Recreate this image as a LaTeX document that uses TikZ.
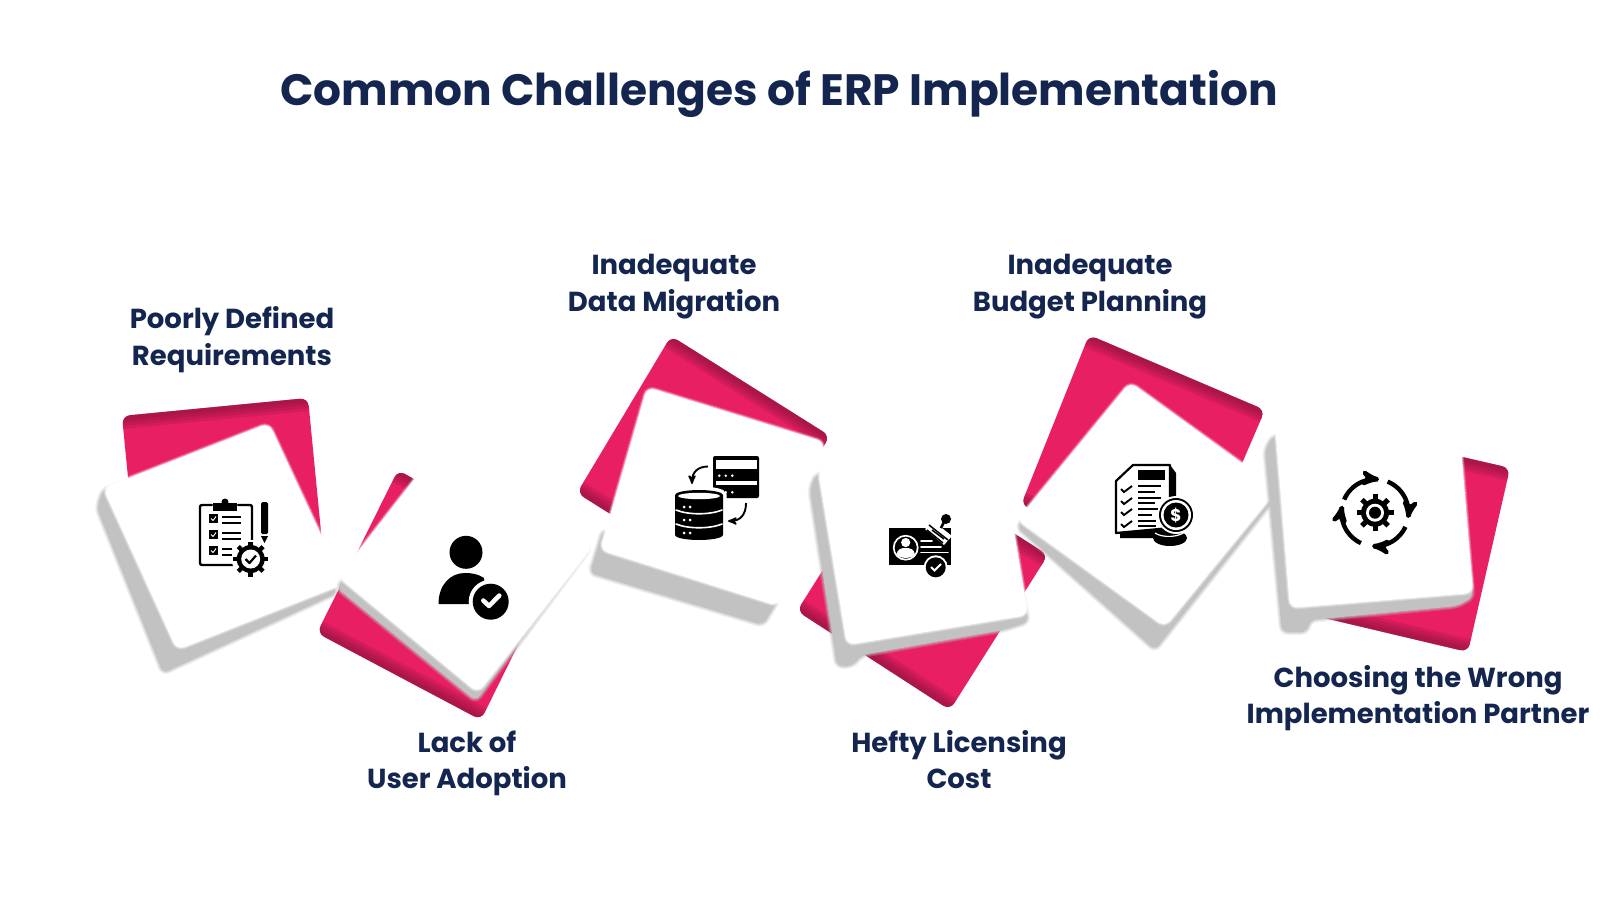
\documentclass[tikz,border=0pt]{standalone}
\usepackage{fontspec}
\setmainfont{Poppins}
\usepackage{xcolor}
\usepackage{tikz}
\usetikzlibrary{arrows}
\definecolor{pink_main}{HTML}{E91F63}
\definecolor{pink_dark}{HTML}{8E1440}
\definecolor{navy_text}{HTML}{14264F}
\definecolor{shadow_grey}{HTML}{C1C2C1}
\tikzset{
    label_node/.style = {align=center, inner sep=0pt, text=navy_text, font=\bfseries\fontsize{27.5}{36.6}\selectfont},
    title_node/.style = {align=center, inner sep=0pt, text=navy_text, font=\bfseries\fontsize{43.9}{50}\selectfont},
    pink_card/.style = {fill=pink_main, rounded corners=8pt},
    ink/.style = {draw=black, line width=2.4pt, line cap=round},
    knock/.style = {draw=white, line width=1.6pt, line cap=round},
    tick/.style = {draw=white, line width=3pt, line cap=round, line join=round},
    blacktick/.style = {draw=black, line width=1.6pt, line join=round}
}
\newcommand{\pinkcard}[4]{
    \fill[pink_card] #1 -- #2 -- #3 -- #4 -- cycle;
    \begin{scope}
        \clip[rounded corners=8pt] #1 -- #2 -- #3 -- #4 -- cycle;
        \foreach \w/\o in {26/0.22,20/0.25,14/0.25,8/0.25}
            \draw[draw=pink_dark, line width=\w pt, opacity=\o] #1 -- #2 #3 -- #4;
    \end{scope}
}
\newcommand{\greycard}[1]{
    \foreach \w/\o in {6/0.2,4/0.3,2/0.4}
        \draw[draw=shadow_grey, line width=\w pt, opacity=\o, rounded corners=6pt] #1 -- cycle;
    \fill[fill=shadow_grey, rounded corners=6pt] #1 -- cycle;
}
\newcommand{\whitecard}[1]{
    \fill[fill=white, rounded corners=8pt] #1 -- cycle;
    \foreach \w/\o in {4/0.25,2/0.4}
        \draw[draw=white, line width=\w pt, opacity=\o, rounded corners=8pt] #1 -- cycle;
}
\newcommand{\gearglyph}[4]{
    \begin{scope}[shift={#1}]
        \fill[black] (0,0) circle[radius=#3];
        \foreach \a in {0,45,...,315}
            \draw[draw=black, line width=#4pt] (0,0) -- (\a:#2);
    \end{scope}
}
\begin{document}
\begin{tikzpicture}[x=1pt, y=-1pt, >=stealth']
    \useasboundingbox (0,0) rectangle (1600,900);
    \fill[white] (0,0) rectangle (1600,900);

    \node [title_node] (title) at (779,94) {Common Challenges of ERP Implementation};

    \pinkcard{(122,416)}{(308,398)}{(326,583)}{(140,600)}
    \greycard{(103,490) -- (97,508) -- (163,673) -- (337,593) -- (270,430)}
    \whitecard{(103,488) -- (269,423) -- (344,584) -- (177,650)}

    \pinkcard{(671,336)}{(830,436)}{(735,592)}{(577,493)}
    \greycard{(603,530) -- (590,573) -- (763,625) -- (778,600)}
    \whitecard{(647,387) -- (825,442) -- (778,606) -- (600,550)}

    \pinkcard{(398,470)}{(559,562)}{(481,720)}{(317,633)}
    \greycard{(337,588) -- (476,701) -- (590,548) -- (451,440)}
    \whitecard{(338,577) -- (478,693) -- (593,546) -- (451,432)}

    \pinkcard{(894,457)}{(1048,555)}{(950,710)}{(797,611)}
    \greycard{(816,474) -- (810,490) -- (837,666) -- (852,666) -- (862,655) -- (1003,630) -- (1028,622) -- (1000,480)}
    \whitecard{(818,470) -- (999,440) -- (1028,615) -- (847,645)}

    \pinkcard{(1089,335)}{(1265,410)}{(1193,577)}{(1021,505)}
    \greycard{(1017,527) -- (1155,650) -- (1275,498) -- (1130,400)}
    \whitecard{(1130,382) -- (1278,489) -- (1165,627) -- (1017,520)}

    \pinkcard{(1324,425)}{(1510,468)}{(1468,652)}{(1282,608)}
    \greycard{(1273,436) -- (1265,450) -- (1282,632) -- (1307,632) -- (1310,620) -- (1457,606) -- (1473,597) -- (1450,430)}
    \whitecard{(1275,425) -- (1458,410) -- (1473,593) -- (1290,608)}

    % clipboard
    \draw[ink, rounded corners=2pt] (212,505) -- (200,505) -- (200,565) -- (236,565);
    \draw[ink, rounded corners=2pt] (238,505) -- (252,505) -- (252,545);
    \fill[black] (213,503) rectangle (237,511);
    \fill[black] (225,502) circle[radius=3.5];
    \foreach \y in {514,530,546} {
        \fill[black] (209,\y) rectangle (218,\y+9);
        \draw[draw=white, line width=1pt] (211,\y+4.5) -- (213,\y+6.5) -- (216,\y+2.5);
    }
    \foreach \y in {517,523,533,539}
        \draw[draw=black, line width=1.8pt] (222,\y) -- (241,\y);
    \draw[draw=black, line width=1.8pt] (222,549) -- (232,549);
    \draw[draw=black, line width=1.8pt] (222,555) -- (232,555);
    \fill[white] (250.7,559) circle[radius=19];
    \gearglyph{(250.7,559)}{17.5}{14}{4.5}
    \fill[white] (250.7,559) circle[radius=9.5];
    \draw[blacktick, line width=2.2pt] (245.5,559) -- (249.5,563) -- (256,555.5);
    \fill[black, rounded corners=1.5pt] (261,502) rectangle (268,534);
    \fill[black] (261,536) -- (268,536) -- (264.5,543) -- cycle;

    % person
    \fill[black] (466,552.3) circle[radius=16.5];
    \fill[black] (438.5,604) .. controls (438.5,585) and (450,573) .. (465,573) .. controls (472,573) and (478,574) .. (484,578) -- (484,604) -- cycle;
    \fill[white] (490.7,601.7) circle[radius=22];
    \fill[black] (490.7,601.7) circle[radius=18];
    \draw[tick, line width=4.5pt] (483.3,600.5) -- (489,606) -- (499.3,595.5);

    % database and server
    \fill[black, rounded corners=2pt] (713,456) rectangle (759,498);
    \fill[white] (716,460) rectangle (757,469);
    \fill[white] (716,481) rectangle (757,485);
    \foreach \x in {719.3,725.7,732.3} {
        \fill[white] (\x,475.7) circle[radius=1.4];
        \fill[white] (\x,492.3) circle[radius=1.4];
    }
    \draw[draw=white, line width=7pt] (675,495) -- (675,535) arc[start angle=180, end angle=360, x radius=24, y radius=-5] -- (723,495) arc[start angle=0, end angle=180, x radius=24, y radius=-5] -- cycle;
    \fill[black] (675,495) -- (675,535) arc[start angle=180, end angle=360, x radius=24, y radius=-5] -- (723,495) arc[start angle=0, end angle=180, x radius=24, y radius=-5] -- cycle;
    \fill[white] (699,496) ellipse[x radius=21, y radius=3.2];
    \draw[knock] (676,510) .. controls (688,515) and (710,515) .. (722,510);
    \draw[knock] (676,524) .. controls (688,529) and (710,529) .. (722,524);
    \foreach \y in {507,520,533} {
        \fill[white] (684,\y) circle[radius=1.5];
        \fill[white] (690,\y) circle[radius=1.5];
    }
    \draw[->, draw=black, line width=1.9pt] (708,466.5) .. controls (698,466.5) and (692,472) .. (692,484);
    \draw[->, draw=black, line width=1.9pt] (746,503) .. controls (746,515) and (740,521) .. (728,521);

    % licence card
    \fill[black] (889.3,528.3) rectangle (951,565);
    \draw[draw=white, line width=1.7pt] (905.7,547.7) circle[radius=12];
    \fill[white] (905.7,542.5) circle[radius=4.6];
    \fill[white] (896.5,555) .. controls (897,549) and (901,548) .. (905.7,548) .. controls (910,548) and (914.5,549) .. (915,555) .. controls (910,559) and (901,559) .. (896.5,555) -- cycle;
    \draw[knock] (921,541) -- (932,541);
    \draw[knock] (921,547) -- (941,547);
    \draw[knock] (921,552.5) -- (948,552.5);
    \fill[white] (925,529) -- (933,521) -- (952,536) -- (944,545) -- cycle;
    \draw[draw=black, line width=1.5pt] (929,525) -- (948,540);
    \draw[draw=black, line width=1.5pt] (932,530) -- (944,539);
    \draw[draw=black, line width=1.5pt] (927,530) -- (943,543);
    \draw[draw=black, line width=2.5pt] (945,520) -- (941,528);
    \fill[black] (946,519) circle[radius=5];
    \fill[white] (935.7,567.3) circle[radius=12];
    \fill[black] (935.7,567.3) circle[radius=10];
    \draw[draw=white, line width=2pt] (931,567) -- (934.5,570.5) -- (941,564);

    % budget sheet
    \fill[black] (1120,480) -- (1120,538) -- (1176,538) -- (1176,473) -- (1170,465) -- cycle;
    \draw[draw=black, line width=2.2pt, fill=white, line join=round] (1116,481) -- (1133,465) -- (1170,465) -- (1170,528) -- (1116,533) -- cycle;
    \fill[black] (1138,470) rectangle (1165,479.5);
    \foreach \y/\e in {486/1161,492/1155,498/1161,503/1155,509/1158,515/1152,521/1156,526/1156}
        \draw[draw=black, line width=1.9pt] (1138,\y) -- (\e,\y);
    \foreach \y in {489,501,512,524}
        \draw[draw=black, line width=1.9pt] (1121,\y) -- (1124,\y+3) -- (1132,\y-3);
    \fill[black] (1170,538) ellipse[x radius=17, y radius=8];
    \draw[draw=white, line width=1.2pt] (1155,533) .. controls (1162,538) and (1180,538) .. (1187,530);
    \fill[white] (1176,515) circle[radius=19];
    \fill[black] (1176,515) circle[radius=17];
    \fill[white] (1176,515) circle[radius=15];
    \fill[black] (1176,515) circle[radius=12.5];
    \node [inner sep=0pt, text=white, font=\bfseries\fontsize{17}{17}\selectfont] (coin) at (1176,515) {\$};

    % process cycle
    \gearglyph{(1375,512.7)}{18.5}{14}{5}
    \fill[white] (1375,512.7) circle[radius=9];
    \fill[black] (1375,512.7) circle[radius=6];
    \draw[->, draw=black, line width=4.4pt] plot[domain=157:83, samples=30] ({1375+33.5*cos(\x)},{512.7-33.5*sin(\x)});
    \draw[->, draw=black, line width=4.4pt] plot[domain=68:-9, samples=30] ({1375+33.5*cos(\x)},{512.7-33.5*sin(\x)});
    \draw[->, draw=black, line width=4.4pt] plot[domain=-25:-95, samples=30] ({1375+33.5*cos(\x)},{512.7-33.5*sin(\x)});
    \draw[->, draw=black, line width=4.4pt] plot[domain=-115:-192, samples=30] ({1375+33.5*cos(\x)},{512.7-33.5*sin(\x)});

    \node [label_node] (poorly) at (232,339.5) {Poorly Defined\\Requirements};
    \node [label_node] (lack) at (467,763.5) {Lack of\\User Adoption};
    \node [label_node] (migration) at (674,286.5) {Inadequate\\Data Migration};
    \node [label_node] (licensing) at (959,759.5) {Hefty Licensing\\Cost};
    \node [label_node] (budget) at (1090,286.5) {Inadequate\\Budget Planning};
    \node [label_node] (partner) at (1418,698) {Choosing the Wrong\\Implementation Partner};
\end{tikzpicture}
\end{document}
